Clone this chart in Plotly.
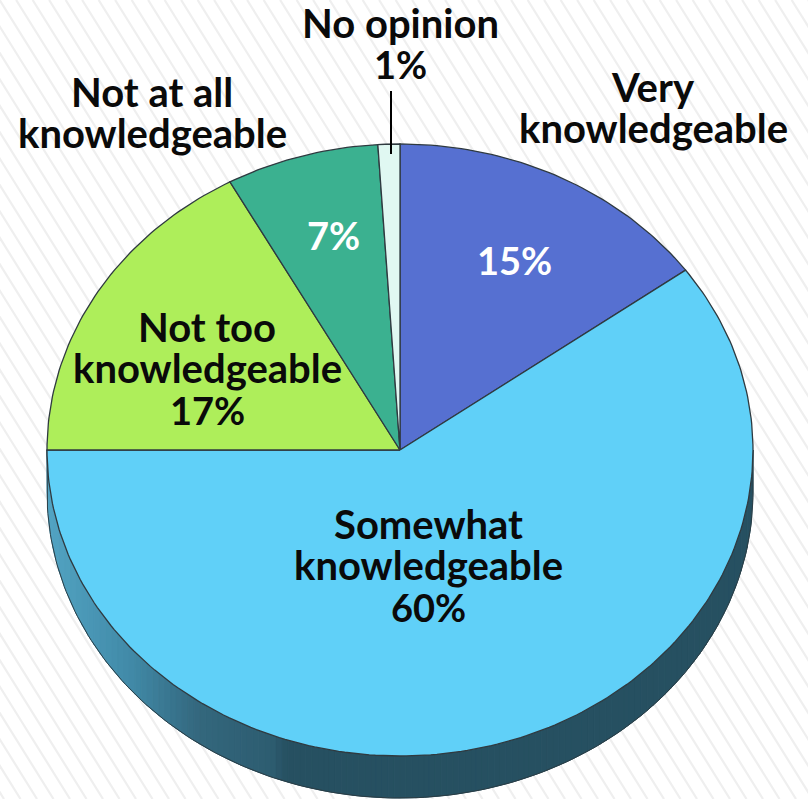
import math
import plotly.graph_objects as go

# ---- data ----
categories = ["Very knowledgeable", "Somewhat knowledgeable", "Not too knowledgeable",
              "Not at all knowledgeable", "No opinion"]
values = [15, 60, 17, 7, 1]
colors = ["#5670D1", "#60D0F8", "#AEEE5A", "#3BB190", "#E0F8F2"]

# ---- canvas geometry (pixels) ----
W, H = 808, 799
CX, CY, RX, RY, DEPTH = 400, 450, 353, 306, 42
FONT = "Lato"
SIZE = 40
PCT_SIZE = 38

xmin, xmax = (0 - CX) / RX, (W - CX) / RX
ymin, ymax = (CY - H) / RY, CY / RY
DY = DEPTH / RY


def px(x, y):
    return (x - CX) / RX, (CY - y) / RY


fig = go.Figure()

# background stripes
sx, sy = [], []
slope, gap, offset = 1.6, 16.5, 4
x0 = -H / slope
while x0 < W:
    a, b = px(x0 + offset, 0)
    c, d = px(x0 + offset + H / slope, H)
    sx += [a, c, None]
    sy += [b, d, None]
    x0 += gap
fig.add_trace(go.Scatter(x=sx, y=sy, mode="lines", line=dict(color="#EFEFEF", width=2.2),
                         hoverinfo="skip", showlegend=False))

# extruded side, shaded in narrow vertical bands
stops = [(-1.0, (82, 164, 195)), (-0.765, (65, 138, 168)), (-0.567, (51, 103, 125)),
         (-0.36, (45, 92, 112)), (-0.32, (38, 80, 97)), (1.0, (38, 80, 97))]


def shade(u):
    for (u0, c0), (u1, c1) in zip(stops, stops[1:]):
        if u <= u1:
            t = (u - u0) / (u1 - u0)
            return "rgb(%d,%d,%d)" % tuple(round(p + (q - p) * t) for p, q in zip(c0, c1))
    return "rgb(38,80,97)"


N = 120
for i in range(N):
    u0 = -1 + 2 * i / N
    u1 = -1 + 2 * (i + 1) / N
    xs = [u0 + (u1 - u0) * k / 4 for k in range(5)]
    y_top = [-math.sqrt(max(0.0, 1 - x * x)) for x in xs]
    y_bot = [y - DY for y in y_top]
    col = shade((u0 + u1) / 2)
    fig.add_trace(go.Scatter(x=xs + xs[::-1] + xs[:1], y=y_top + y_bot[::-1] + y_top[:1],
                             mode="lines", fill="toself", fillcolor=col,
                             line=dict(color=col, width=1), hoverinfo="skip", showlegend=False))

# side outline
arc = [math.pi + math.pi * k / 180 for k in range(181)]
arc_x = [math.cos(t) for t in arc]
arc_y = [math.sin(t) - DY for t in arc]
fig.add_trace(go.Scatter(x=[arc_x[0]] + arc_x + [arc_x[-1]], y=[0] + arc_y + [0],
                         mode="lines", line=dict(color="#2B3D45", width=1),
                         hoverinfo="skip", showlegend=False))

# pie faces: wedges computed clockwise from 12 o'clock
total = sum(values)
start = 0.0
for cat, val, col in zip(categories, values, colors):
    sweep = 360.0 * val / total
    n = max(2, int(sweep))
    angs = [math.radians(start + sweep * k / n) for k in range(n + 1)]
    fig.add_trace(go.Scatter(x=[0] + [math.sin(t) for t in angs] + [0],
                             y=[0] + [math.cos(t) for t in angs] + [0],
                             mode="lines", fill="toself", fillcolor=col,
                             line=dict(color="#2F3A40", width=1.3),
                             name=cat, hoverinfo="name", showlegend=False))
    start += sweep

# leader line for "No opinion"
lx0, ly0 = px(391, 91)
lx1, ly1 = px(391, 154)
fig.add_trace(go.Scatter(x=[lx0, lx1], y=[ly0, ly1], mode="lines",
                         line=dict(color="#000000", width=2), hoverinfo="skip", showlegend=False))

# labels, line by line
labels = [
    (400, 23, "No opinion", "#0A0A0A"), (400, 64, "1%", "#0A0A0A"),
    (152, 92, "Not at all", "#0A0A0A"), (152, 133, "knowledgeable", "#0A0A0A"),
    (653, 87, "Very", "#0A0A0A"), (653, 128, "knowledgeable", "#0A0A0A"),
    (514, 260, "15%", "#FFFFFF"), (333, 235, "7%", "#FFFFFF"),
    (207, 327, "Not too", "#0A0A0A"), (207, 368, "knowledgeable", "#0A0A0A"), (207, 410, "17%", "#0A0A0A"),
    (428, 524, "Somewhat", "#0A0A0A"), (428, 565, "knowledgeable", "#0A0A0A"), (428, 607, "60%", "#0A0A0A"),
]
annotations = [dict(x=lx / W, y=1 - ly / H, xref="paper", yref="paper", text="<b>%s</b>" % t,
                    showarrow=False, xanchor="center", yanchor="middle",
                    font=dict(family=FONT, size=PCT_SIZE if t.endswith("%") else SIZE, color=c))
               for lx, ly, t, c in labels]

fig.update_layout(
    width=W, height=H, margin=dict(l=0, r=0, t=0, b=0),
    paper_bgcolor="#FFFFFF", plot_bgcolor="#FFFFFF", showlegend=False,
    xaxis=dict(range=[xmin, xmax], visible=False, fixedrange=True),
    yaxis=dict(range=[ymin, ymax], visible=False, fixedrange=True),
    annotations=annotations,
)
fig.write_html("out.html", config={"displayModeBar": False},
               post_script="document.body.style.margin='0';document.body.style.overflow='hidden';")
